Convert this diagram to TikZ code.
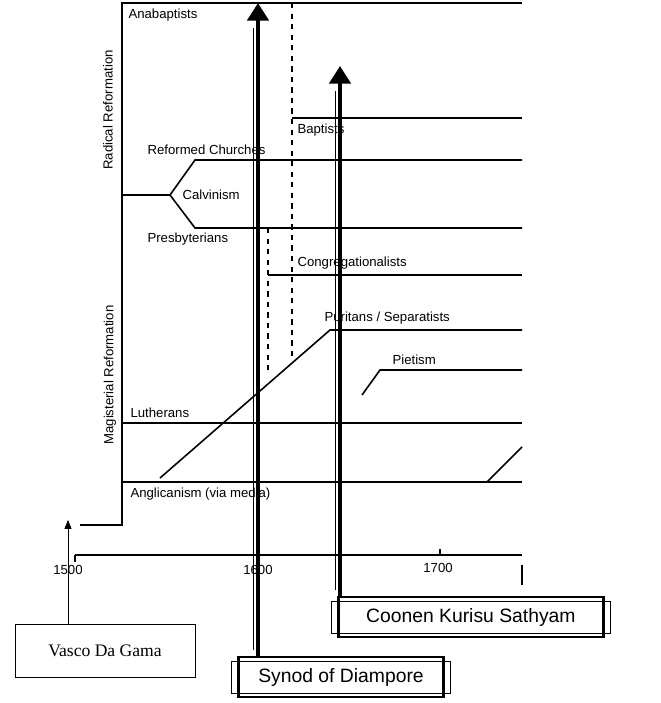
\documentclass[tikz,border=0pt]{standalone}
\usepackage{fontspec}
\setmainfont{Liberation Sans}
\newfontfamily\serifname{Liberation Serif}
\usetikzlibrary{arrows.meta,calc}

\begin{document}
\begin{tikzpicture}[x=0.02cm,y=-0.02cm,
    line width=0.9pt,
    lbl/.style={anchor=south west,font=\fontsize{7.5}{8}\selectfont,inner sep=1pt},
    side/.style={rotate=90,font=\fontsize{7.5}{8}\selectfont},
    bigbox/.style={draw,line width=1.6pt,font=\fontsize{11}{13}\selectfont,minimum height=0.8cm,inner xsep=10pt},
    bigarrow/.style={line width=2.4pt,-{Triangle[length=10pt,width=12pt]}}]
   \useasboundingbox (0,0) rectangle (660,703);

   % time axis
   \draw (75,555) -- (522,555);
   \draw (75,555) -- (75,562);
   \draw (440,555) -- (440,549);
   \draw (522,565) -- (522,585);
   \node[font=\fontsize{7.5}{8}\selectfont] (y1500) at (68,570) {1500};
   \node[font=\fontsize{7.5}{8}\selectfont] (y1600) at (258,570) {1600};
   \node[font=\fontsize{7.5}{8}\selectfont] (y1700) at (438,568) {1700};

   % trunk
   \draw (80,525) -- (122,525) -- (122,3) -- (522,3);
   \node[side] (radical) at (108,110) {Radical Reformation};
   \node[side] (magist) at (110,375) {Magisterial Reformation};

   % branches
   \node[lbl,anchor=north west] (anabapt) at (126,6) {Anabaptists};
   \draw (292,118) -- (522,118);
   \node[lbl,anchor=north west] (bapt) at (295,121) {Baptists};
   \draw (122,195) -- (170,195) -- (195,160) -- (522,160);
   \draw (170,195) -- (195,228) -- (522,228);
   \node[lbl] (reformed) at (145,157) {Reformed Churches};
   \node[lbl,anchor=west] (calvin) at (180,195) {Calvinism};
   \node[lbl,anchor=north west] (presby) at (145,230) {Presbyterians};
   \draw (268,275) -- (522,275);
   \node[lbl] (congreg) at (295,272) {Congregationalists};
   \draw (160,478) -- (330,330) -- (522,330);
   \node[lbl] (puritan) at (322,327) {Puritans / Separatists};
   \draw (362,395) -- (380,370) -- (522,370);
   \node[lbl] (pietism) at (390,367) {Pietism};
   \draw (122,423) -- (522,423);
   \node[lbl] (luther) at (128,420) {Lutherans};
   \draw (122,482) -- (522,482);
   \draw (487,482) -- (522,447);
   \node[lbl,anchor=north west] (anglic) at (128,485) {Anglicanism (via media)};

   % dashed links
   \draw[dashed] (292,3) -- (292,360);
   \draw[dashed] (268,228) -- (268,370);

   % events
   \node[draw,thin,font=\serifname\fontsize{10}{12}\selectfont,minimum width=3.6cm,minimum height=1.06cm] (vasco) at (105,651) {Vasco Da Gama};
   \coordinate (vascoTip) at (68,520);
   \draw[thin,-{Triangle[length=5pt,width=4pt]}] (vascoTip |- vasco.north) -- (vascoTip);

   \node[bigbox,minimum width=4.1cm] (synod) at (341,677) {Synod of Diampore};
   \node[bigbox,minimum width=5.3cm,anchor=west] (coonen) at (337,617) {Coonen Kurisu Sathyam};
   \draw[thin] ([xshift=-3pt,yshift=3pt]synod.south west) rectangle ([xshift=3pt,yshift=-3pt]synod.north east);
   \draw[thin] ([xshift=-3pt,yshift=3pt]coonen.south west) rectangle ([xshift=3pt,yshift=-3pt]coonen.north east);
   \coordinate (synodTip) at (258,3);
   \coordinate (coonenTip) at (340,66);
   \draw[bigarrow] (synodTip |- synod.north) -- (synodTip);
   \draw[thin] ([xshift=-0.1cm,yshift=3pt]synodTip |- synod.north) -- ([xshift=-0.1cm,yshift=-0.5cm]synodTip);
   \draw[bigarrow] (coonenTip |- coonen.north) -- (coonenTip);
   \draw[thin] ([xshift=-0.1cm,yshift=3pt]coonenTip |- coonen.north) -- ([xshift=-0.1cm,yshift=-0.5cm]coonenTip);
\end{tikzpicture}
\end{document}
